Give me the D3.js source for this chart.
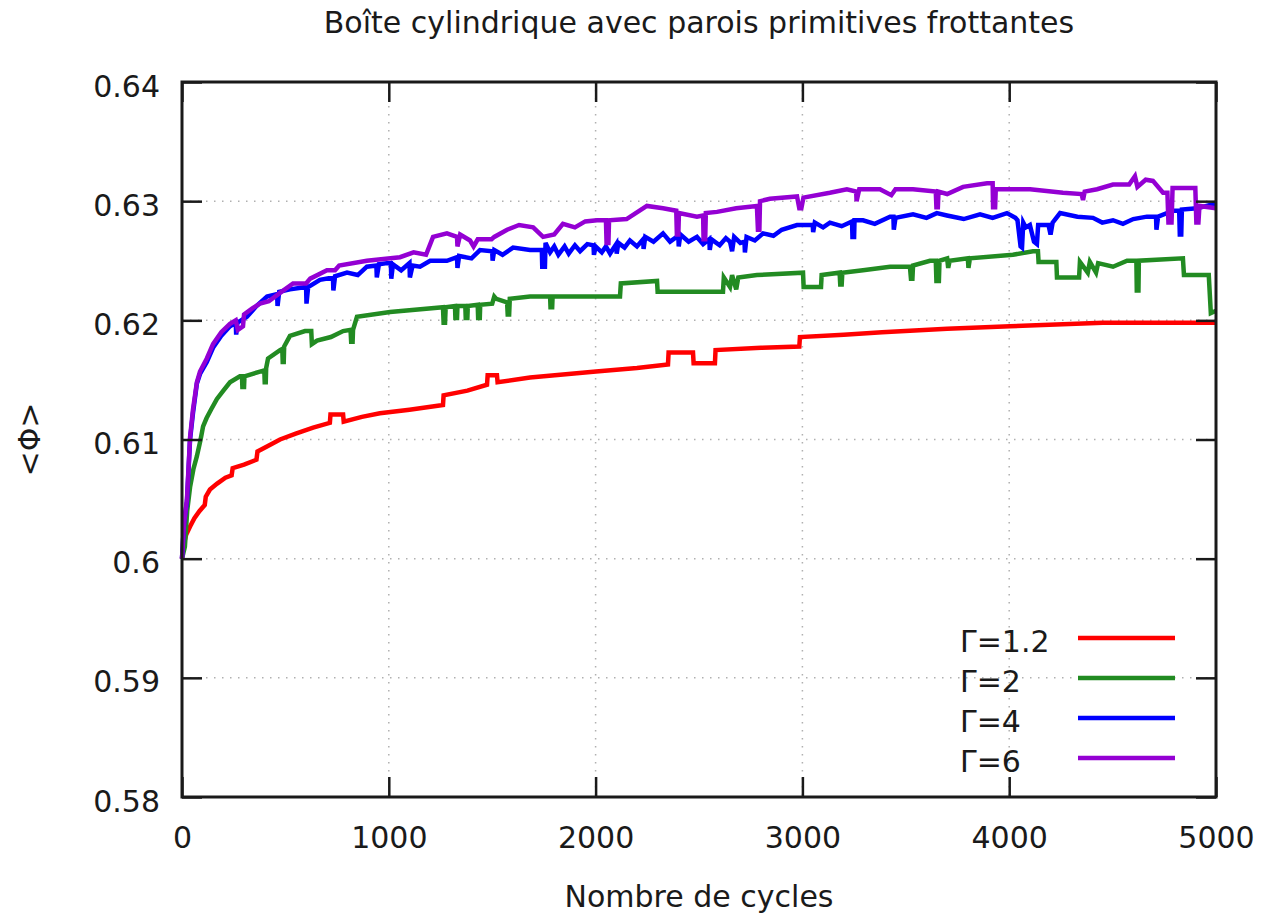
<!DOCTYPE html>
<html>
<head>
<meta charset="utf-8">
<script src="https://cdn.jsdelivr.net/npm/d3@7"></script>
<style>
  html, body { margin: 0; padding: 0; background: #fff; }
  svg { display: block; font-family: 'DejaVu Sans', sans-serif; }
</style>
</head>
<body>
<svg id="chart"></svg>
<script>
// Boîte cylindrique - compacité moyenne vs nombre de cycles
const title = 'Boîte cylindrique avec parois primitives frottantes';
const xLabel = 'Nombre de cycles';
const yLabel = '<Φ>';

const xTicks = [0, 1000, 2000, 3000, 4000, 5000];
const yTicks = [0.58, 0.59, 0.6, 0.61, 0.62, 0.63, 0.64];

// [cycles, <phi>]
const gamma12 = [
  [0, 0.6000], [8, 0.6012], [20, 0.6020], [39, 0.6027], [60, 0.6034], [85, 0.6040], [110, 0.6045],
  [115, 0.6052], [135, 0.6058], [170, 0.6063], [210, 0.6068], [240, 0.6070], [245, 0.6076],
  [300, 0.6079], [360, 0.6083], [365, 0.6090], [420, 0.6095], [474, 0.6100], [550, 0.6105],
  [634, 0.6110], [715, 0.6114], [718, 0.6121], [779, 0.6121], [782, 0.6115], [870, 0.6119],
  [957, 0.6122], [1100, 0.6125], [1262, 0.6129], [1265, 0.6137], [1380, 0.6141], [1475, 0.6146],
  [1478, 0.6154], [1523, 0.6154], [1526, 0.6148], [1683, 0.6152], [2002, 0.6157], [2200, 0.6160],
  [2350, 0.6163], [2353, 0.6173], [2471, 0.6173], [2474, 0.6164], [2577, 0.6164], [2580, 0.6175],
  [2800, 0.6177], [2985, 0.6178], [2988, 0.6186], [3200, 0.6188], [3385, 0.6190], [3700, 0.6193],
  [4004, 0.6195], [4453, 0.6198], [5000, 0.6198]
];

const gamma2 = [
  [0, 0.6000], [14, 0.6010], [25, 0.6040], [39, 0.6060], [55, 0.6075], [72, 0.6086], [90, 0.6100],
  [102, 0.6111], [119, 0.6118], [140, 0.6125], [169, 0.6134], [200, 0.6141], [232, 0.6148],
  [280, 0.6153], [290, 0.6153], [292, 0.6144], [300, 0.6144], [302, 0.6153], [377, 0.6157],
  [398, 0.6158], [400, 0.6148], [405, 0.6148], [407, 0.6160], [416, 0.6168], [474, 0.6175],
  [485, 0.6176], [487, 0.6165], [492, 0.6165], [494, 0.6178], [522, 0.6187], [595, 0.6191],
  [625, 0.6191], [628, 0.6180], [653, 0.6183], [720, 0.6186], [779, 0.6191], [815, 0.6192],
  [818, 0.6182], [825, 0.6182], [827, 0.6192], [846, 0.6203], [1006, 0.6207], [1262, 0.6211],
  [1265, 0.6198], [1272, 0.6198], [1275, 0.6211], [1320, 0.6212], [1322, 0.6202], [1330, 0.6202],
  [1332, 0.6212], [1370, 0.6212], [1372, 0.6202], [1380, 0.6202], [1382, 0.6212], [1430, 0.6213],
  [1432, 0.6202], [1440, 0.6202], [1442, 0.6213], [1500, 0.6214], [1510, 0.6220], [1520, 0.6218],
  [1572, 0.6215], [1575, 0.6205], [1582, 0.6205], [1585, 0.6218], [1683, 0.6220], [1780, 0.6220],
  [1782, 0.6211], [1790, 0.6211], [1792, 0.6220], [2118, 0.6220], [2122, 0.6231], [2297, 0.6233],
  [2300, 0.6224], [2616, 0.6224], [2620, 0.6236], [2650, 0.6228], [2660, 0.6238], [2680, 0.6226],
  [2690, 0.6236], [2780, 0.6238], [3003, 0.6240], [3006, 0.6228], [3090, 0.6228], [3093, 0.6238],
  [3180, 0.6240], [3183, 0.6230], [3190, 0.6230], [3193, 0.6240], [3293, 0.6242], [3424, 0.6245],
  [3520, 0.6245], [3525, 0.6235], [3532, 0.6235], [3535, 0.6246], [3617, 0.6250], [3645, 0.6250],
  [3648, 0.6233], [3660, 0.6233], [3663, 0.6250], [3700, 0.6252], [3705, 0.6244], [3712, 0.6250],
  [3800, 0.6252], [3803, 0.6244], [3810, 0.6252], [4018, 0.6255], [4115, 0.6258], [4139, 0.6258],
  [4142, 0.6249], [4228, 0.6249], [4231, 0.6236], [4338, 0.6236], [4342, 0.6249], [4380, 0.6240],
  [4390, 0.6249], [4420, 0.6240], [4430, 0.6248], [4502, 0.6245], [4570, 0.6250], [4615, 0.6250],
  [4617, 0.6225], [4625, 0.6225], [4627, 0.6250], [4840, 0.6252], [4845, 0.6238], [4965, 0.6238],
  [4975, 0.6206], [5000, 0.6208]
];

const gamma4 = [
  [0, 0.6000], [10, 0.6030], [24, 0.6048], [39, 0.6100], [53, 0.6122], [72, 0.6147], [87, 0.6155],
  [120, 0.6165], [150, 0.6177], [190, 0.6187], [232, 0.6195], [260, 0.6198], [262, 0.6188],
  [268, 0.6198], [314, 0.6203], [360, 0.6212], [411, 0.6220], [460, 0.6222], [462, 0.6212],
  [470, 0.6224], [522, 0.6226], [600, 0.6228], [602, 0.6214], [610, 0.6228], [667, 0.6234],
  [730, 0.6236], [732, 0.6225], [740, 0.6237], [798, 0.6240], [850, 0.6238], [894, 0.6245], [940, 0.6246],
  [942, 0.6236], [952, 0.6247], [991, 0.6248], [1010, 0.6248], [1012, 0.6235], [1020, 0.6247],
  [1060, 0.6242], [1100, 0.6248], [1102, 0.6236], [1115, 0.6246], [1151, 0.6245], [1200, 0.6250], [1281, 0.6250],
  [1330, 0.6253], [1332, 0.6244], [1340, 0.6254], [1400, 0.6252], [1441, 0.6259], [1500, 0.6258], [1502, 0.6250],
  [1510, 0.6259], [1550, 0.6255], [1601, 0.6261], [1683, 0.6259], [1740, 0.6259], [1742, 0.6245], [1755, 0.6245],
  [1758, 0.6265], [1780, 0.6257], [1800, 0.6262], [1820, 0.6255], [1850, 0.6262], [1870, 0.6256], [1900, 0.6263],
  [1925, 0.6258], [1960, 0.6264], [1990, 0.6263],
  [1992, 0.6255], [2000, 0.6262], [2030, 0.6257], [2050, 0.6262], [2070, 0.6256], [2100, 0.6264], [2102, 0.6256], [2110, 0.6265],
  [2140, 0.6261], [2166, 0.6267], [2200, 0.6262], [2230, 0.6268], [2232, 0.6260], [2240, 0.6270], [2280, 0.6266], [2326, 0.6273], [2360, 0.6266],
  [2400, 0.6271], [2402, 0.6262], [2410, 0.6272], [2450, 0.6266], [2490, 0.6270], [2520, 0.6264], [2550, 0.6268], [2552, 0.6259],
  [2560, 0.6268], [2600, 0.6263], [2630, 0.6269], [2650, 0.6266], [2660, 0.6258], [2670, 0.6270], [2700, 0.6265], [2720, 0.6266],
  [2722, 0.6257], [2730, 0.6270], [2770, 0.6267], [2810, 0.6273], [2860, 0.6271], [2900, 0.6276], [2974, 0.6280], [3050, 0.6280],
  [3052, 0.6274], [3060, 0.6282], [3100, 0.6278], [3133, 0.6282], [3190, 0.6279], [3240, 0.6283], [3242, 0.6270], [3250, 0.6270],
  [3252, 0.6284], [3293, 0.6284], [3350, 0.6281], [3424, 0.6287], [3440, 0.6287], [3442, 0.6276], [3450, 0.6286],
  [3535, 0.6289], [3600, 0.6286], [3650, 0.6290], [3699, 0.6288], [3780, 0.6285], [3859, 0.6289], [3920, 0.6286], [3989, 0.6290], [4030, 0.6286],
  [4040, 0.6284], [4055, 0.6262], [4062, 0.6261], [4068, 0.6282], [4080, 0.6278], [4100, 0.6280],
  [4120, 0.6266], [4134, 0.6264], [4140, 0.6280], [4190, 0.6280], [4200, 0.6272], [4210, 0.6282],
  [4246, 0.6290], [4330, 0.6287], [4405, 0.6286], [4450, 0.6282], [4502, 0.6284], [4550, 0.6281], [4600, 0.6285], [4666, 0.6287], [4710, 0.6287],
  [4712, 0.6276], [4720, 0.6287], [4792, 0.6292], [4822, 0.6292], [4825, 0.6272], [4832, 0.6272],
  [4835, 0.6293], [4908, 0.6294], [5000, 0.6298]
];

const gamma6 = [
  [0, 0.6000], [10, 0.6030], [24, 0.6050], [39, 0.6102], [53, 0.6125], [72, 0.6148], [87, 0.6157],
  [120, 0.6168], [150, 0.6180], [190, 0.6190], [232, 0.6197], [260, 0.6200], [270, 0.6192],
  [295, 0.6195], [300, 0.6205], [340, 0.6210], [377, 0.6214], [420, 0.6216], [474, 0.6223],
  [537, 0.6231], [600, 0.6231], [620, 0.6235], [701, 0.6242], [740, 0.6242], [760, 0.6246],
  [894, 0.6250], [1054, 0.6253], [1120, 0.6257], [1180, 0.6255], [1214, 0.6270], [1281, 0.6273],
  [1330, 0.6270], [1332, 0.6262], [1345, 0.6272], [1393, 0.6267], [1410, 0.6262], [1430, 0.6268],
  [1497, 0.6268], [1510, 0.6270], [1572, 0.6276], [1630, 0.6280], [1698, 0.6278], [1746, 0.6270],
  [1800, 0.6272], [1842, 0.6281], [1900, 0.6278], [1950, 0.6283], [2007, 0.6284], [2050, 0.6284],
  [2053, 0.6265], [2062, 0.6265], [2065, 0.6284], [2150, 0.6285], [2248, 0.6296], [2326, 0.6294],
  [2390, 0.6292], [2393, 0.6272], [2400, 0.6272], [2403, 0.6290], [2490, 0.6287], [2520, 0.6288],
  [2522, 0.6268], [2530, 0.6268], [2533, 0.6290], [2587, 0.6291], [2680, 0.6294], [2780, 0.6296],
  [2785, 0.6276], [2792, 0.6276], [2795, 0.6300], [2843, 0.6302], [2974, 0.6304], [2985, 0.6294],
  [2995, 0.6294], [3005, 0.6303], [3133, 0.6307], [3215, 0.6310], [3260, 0.6308], [3262, 0.6300],
  [3275, 0.6310], [3375, 0.6310], [3430, 0.6305], [3450, 0.6310], [3535, 0.6310], [3645, 0.6308],
  [3648, 0.6295], [3655, 0.6295], [3658, 0.6308], [3700, 0.6306], [3777, 0.6312], [3893, 0.6315],
  [3920, 0.6315], [3922, 0.6295], [3932, 0.6295], [3935, 0.6310], [4101, 0.6310], [4260, 0.6307],
  [4350, 0.6306], [4357, 0.6301], [4365, 0.6308], [4425, 0.6310], [4502, 0.6314], [4580, 0.6314],
  [4608, 0.6321], [4620, 0.6312], [4660, 0.6318], [4695, 0.6317], [4744, 0.6307], [4765, 0.6307],
  [4770, 0.6282], [4785, 0.6282], [4790, 0.6311], [4900, 0.6311], [4905, 0.6282], [4915, 0.6282],
  [4920, 0.6296], [5000, 0.6294]
];

const seriesNames = ['Γ=1.2', 'Γ=2', 'Γ=4', 'Γ=6'];
const seriesColors = ['#ff0000', '#228b22', '#0000ff', '#9400d3'];
const seriesData = [gamma12, gamma2, gamma4, gamma6];

const W = 1271, H = 915;
const MARGIN = { top: 82, right: 55, bottom: 118, left: 182 };
const innerW = W - MARGIN.left - MARGIN.right;
const innerH = H - MARGIN.top - MARGIN.bottom;
const FONT = 30;
const INK = '#1a1a1a';

const svg = d3.select('#chart').attr('width', W).attr('height', H);
const g = svg.append('g').attr('transform', `translate(${MARGIN.left},${MARGIN.top})`);

const x = d3.scaleLinear().domain([0, 5000]).range([0, innerW]);
const y = d3.scaleLinear().domain([0.58, 0.64]).range([innerH, 0]);

// dotted grid
g.append('g')
  .selectAll('line')
  .data(xTicks.slice(1, -1))
  .join('line')
  .attr('x1', d => x(d)).attr('x2', d => x(d))
  .attr('y1', 0).attr('y2', innerH)
  .attr('stroke', '#b0b0b0').attr('stroke-width', 1.5)
  .attr('stroke-dasharray', '1.5,6.5');

g.append('g')
  .selectAll('line')
  .data(yTicks.slice(1, -1))
  .join('line')
  .attr('x1', 0).attr('x2', innerW)
  .attr('y1', d => y(d)).attr('y2', d => y(d))
  .attr('stroke', '#b0b0b0').attr('stroke-width', 1.5)
  .attr('stroke-dasharray', '1.5,6.5');

// curves
const line = d3.line().x(d => x(d[0])).y(d => y(d[1]));

seriesData.forEach((s, i) => {
  g.append('path')
    .datum(s)
    .attr('fill', 'none')
    .attr('stroke', seriesColors[i])
    .attr('stroke-width', 4.5)
    .attr('stroke-linejoin', 'miter')
    .attr('d', line);
});

// axes: ticks pointing inward on all four sides
const styleAxis = sel => {
  sel.select('.domain').remove();
  sel.selectAll('.tick line').attr('stroke', INK).attr('stroke-width', 2.5);
  sel.selectAll('.tick text')
    .attr('fill', INK)
    .attr('font-size', FONT)
    .attr('font-family', "'DejaVu Sans', sans-serif");
};

g.append('g')
  .attr('transform', `translate(0,${innerH})`)
  .call(d3.axisBottom(x).tickValues(xTicks).tickSize(-20).tickPadding(30).tickFormat(d3.format('d')))
  .call(styleAxis)
  .call(sel => sel.selectAll('.tick text').attr('dy', '0.71em'));

g.append('g')
  .call(d3.axisTop(x).tickValues(xTicks).tickSize(-20).tickFormat(''))
  .call(styleAxis);

g.append('g')
  .call(d3.axisLeft(y).tickValues(yTicks).tickSize(-20).tickPadding(22).tickFormat(d => d3.format('')(+d.toFixed(2))))
  .call(styleAxis)
  .call(sel => sel.selectAll('.tick text').attr('dy', '0.47em'));

g.append('g')
  .attr('transform', `translate(${innerW},0)`)
  .call(d3.axisRight(y).tickValues(yTicks).tickSize(-20).tickFormat(''))
  .call(styleAxis);

// frame
g.append('rect')
  .attr('width', innerW).attr('height', innerH)
  .attr('fill', 'none').attr('stroke', INK).attr('stroke-width', 3);

// legend
const legend = g.append('g').attr('transform', `translate(${960 - MARGIN.left},${638 - MARGIN.top})`);
seriesNames.forEach((name, i) => {
  const row = legend.append('g').attr('transform', `translate(0,${i * 40})`);
  row.append('text')
    .attr('x', 0).attr('y', 0).attr('dy', '0.47em')
    .attr('fill', INK).attr('font-size', FONT)
    .text(name);
  row.append('line')
    .attr('x1', 118).attr('x2', 215)
    .attr('y1', 0).attr('y2', 0)
    .attr('stroke', seriesColors[i]).attr('stroke-width', 4.5);
});

// titles
svg.append('text')
  .attr('x', MARGIN.left + innerW / 2).attr('y', 33)
  .attr('text-anchor', 'middle')
  .attr('fill', INK).attr('font-size', FONT)
  .text(title);

svg.append('text')
  .attr('x', MARGIN.left + innerW / 2).attr('y', 907)
  .attr('text-anchor', 'middle')
  .attr('fill', INK).attr('font-size', FONT)
  .text(xLabel);

svg.append('text')
  .attr('transform', `translate(40,${MARGIN.top + innerH / 2}) rotate(-90)`)
  .attr('text-anchor', 'middle')
  .attr('fill', INK).attr('font-size', FONT)
  .text(yLabel);
</script>
</body>
</html>
